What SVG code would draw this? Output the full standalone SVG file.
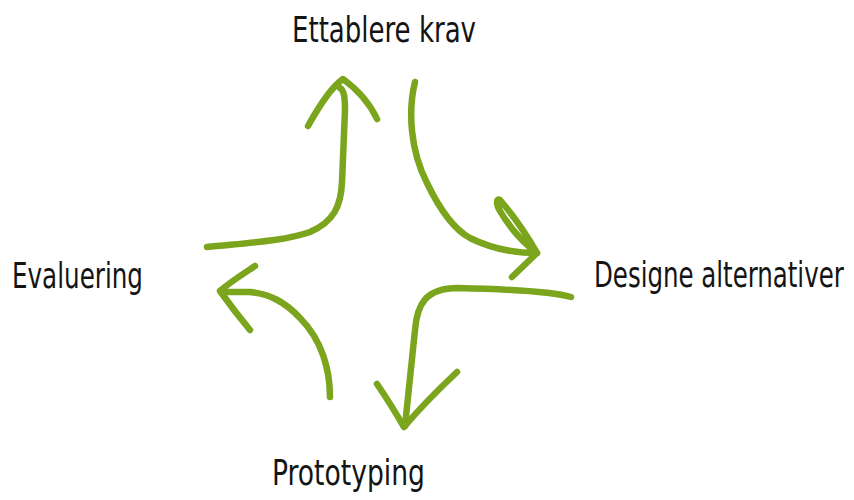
<svg xmlns="http://www.w3.org/2000/svg" width="854" height="500" viewBox="0 0 854 500">
  <style>
    .label { font-family: "Liberation Sans Narrow", "DejaVu Sans Condensed", "Liberation Sans", sans-serif; font-size: 36px; fill: #141414; }
    .stroke { fill: none; stroke: #7aa51c; stroke-width: 6.5; stroke-linecap: round; stroke-linejoin: round; }
  </style>
  <rect width="854" height="500" fill="#ffffff"/>

  <g id="node-ettablere">
    <text class="label" x="292" y="42" textLength="184" lengthAdjust="spacingAndGlyphs">Ettablere krav</text>
  </g>
  <g id="node-designe">
    <!-- horizontally condensed to fit the right margin -->
    <text class="label" transform="translate(594,287) scale(0.75,1)" x="0" y="0" textLength="333" lengthAdjust="spacingAndGlyphs">Designe alternativer</text>
  </g>
  <g id="node-prototyping">
    <text class="label" x="272" y="485" textLength="153" lengthAdjust="spacingAndGlyphs">Prototyping</text>
  </g>
  <g id="node-evaluering">
    <text class="label" x="12" y="288" textLength="131" lengthAdjust="spacingAndGlyphs">Evaluering</text>
  </g>

  <g id="connectors">
    <!-- Evaluering -> Ettablere krav -->
    <path class="stroke" d="M207,247 C245,243 285,241 310,232 C333,222 341,207 342,182 L345,110 C345,98 344,90 340,88"/>
    <path class="stroke" d="M308,126 C318,108 330,88 343,79 C358,90 370,104 377,119"/>
    <!-- Ettablere krav -> Designe alternativer -->
    <path class="stroke" d="M415,82 C408,110 410,150 427,183 C440,210 455,230 470,238 C490,248 515,253 537,253"/>
    <path class="stroke" d="M537,253 C525,232 512,214 500,200 C496,198 496,204 500,211 C510,228 522,242 537,253 L512,277"/>
    <!-- Designe alternativer -> Prototyping -->
    <path class="stroke" d="M571,297 C550,291 500,289 458,288 C425,288 417,305 415,330 L405,426"/>
    <path class="stroke" d="M377,384 C388,400 397,415 404,427 C420,408 440,388 457,372"/>
    <!-- Prototyping -> Evaluering -->
    <path class="stroke" d="M330,397 C330,370 322,340 300,318 C285,302 270,294 250,292 L221,292"/>
    <path class="stroke" d="M255,266 C243,274 230,282 220,291 C230,305 240,318 250,330"/>
  </g>
</svg>
